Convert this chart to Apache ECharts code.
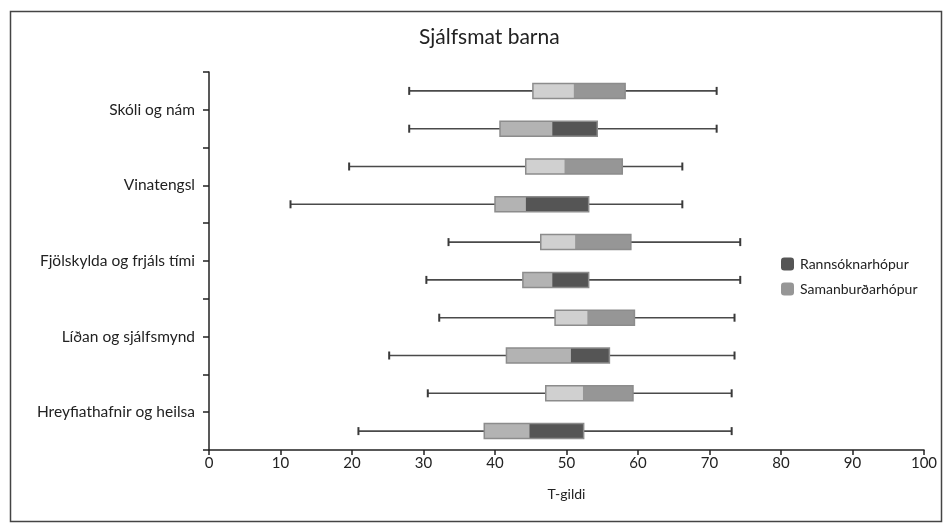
<!DOCTYPE html>
<html>
<head>
<meta charset="utf-8">
<script src="https://cdn.jsdelivr.net/npm/echarts@6/dist/echarts.min.js"></script>
<style>
html,body{margin:0;padding:0;background:#fff;}
#chart{width:947px;height:526px;}
</style>
</head>
<body>
<div id="chart"></div>
<script>
// Categories (top to bottom)
const categories = ['Skóli og nám', 'Vinatengsl', 'Fjölskylda og frjáls tími', 'Líðan og sjálfsmynd', 'Hreyfiathafnir og heilsa'];
// Each entry: [min, Q1, median, Q3, max]
const samanburdarhopur = [
  [28.0, 45.3, 51.0, 58.2, 71.0],
  [19.6, 44.3, 49.7, 57.8, 66.2],
  [33.5, 46.4, 51.2, 59.0, 74.3],
  [32.2, 48.4, 52.9, 59.5, 73.5],
  [30.6, 47.1, 52.3, 59.3, 73.1]
];
const rannsoknarhopur = [
  [28.0, 40.7, 48.0, 54.3, 71.0],
  [11.4, 40.0, 44.3, 53.1, 66.2],
  [30.4, 43.9, 48.0, 53.1, 74.3],
  [25.2, 41.6, 50.6, 56.0, 73.5],
  [20.9, 38.5, 44.8, 52.4, 73.1]
];
const xTicks = [0, 10, 20, 30, 40, 50, 60, 70, 80, 90, 100];
const rowSlots = categories.flatMap(c => [c + ' (S)', c + ' (R)']);

const FONT = 'Lato, "Noto Sans", sans-serif';

function makeRender(lowColor, highColor, sideSign) {
  return function (params, api) {
    const cat = api.value(0);
    const mn = api.value(1), q1 = api.value(2), md = api.value(3), q3 = api.value(4), mx = api.value(5);
    const band = api.size([0, 1])[1];
    const yc = api.coord([0, cat])[1] + sideSign * band / 4;
    const pMin = api.coord([mn, cat])[0];
    const pQ1 = api.coord([q1, cat])[0];
    const pMd = api.coord([md, cat])[0];
    const pQ3 = api.coord([q3, cat])[0];
    const pMax = api.coord([mx, cat])[0];
    const h = 15, capH = 8;
    const lineStyle = { stroke: '#4a4a4a', lineWidth: 1.6 };
    return {
      type: 'group',
      children: [
        { type: 'line', shape: { x1: pMin, y1: yc, x2: pQ1, y2: yc }, style: lineStyle },
        { type: 'line', shape: { x1: pQ3, y1: yc, x2: pMax, y2: yc }, style: lineStyle },
        { type: 'line', shape: { x1: pMin, y1: yc - capH / 2, x2: pMin, y2: yc + capH / 2 }, style: { stroke: '#3a3a3a', lineWidth: 2 } },
        { type: 'line', shape: { x1: pMax, y1: yc - capH / 2, x2: pMax, y2: yc + capH / 2 }, style: { stroke: '#3a3a3a', lineWidth: 2 } },
        { type: 'rect', shape: { x: pQ1, y: yc - h / 2, width: pMd - pQ1, height: h }, style: { fill: lowColor } },
        { type: 'rect', shape: { x: pMd, y: yc - h / 2, width: pQ3 - pMd, height: h }, style: { fill: highColor } },
        { type: 'rect', shape: { x: pQ1, y: yc - h / 2, width: pQ3 - pQ1, height: h }, style: { fill: 'none', stroke: '#8c8c8c', lineWidth: 1.5 } }
      ]
    };
  };
}

const chart = echarts.init(document.getElementById('chart'), null, { renderer: 'canvas' });
chart.setOption({
  animation: false,
  backgroundColor: '#fff',
  textStyle: { fontFamily: FONT },
  title: {
    text: 'Sjálfsmat barna',
    left: 414, top: 22,
    textStyle: { fontFamily: FONT, fontSize: 21, fontWeight: 'normal', color: '#222' }
  },
  graphic: [{
    type: 'rect', left: 8, top: 9,
    shape: { x: 0, y: 0, width: 931, height: 510 },
    style: { fill: 'none', stroke: '#444', lineWidth: 1.5 }
  }],
  legend: {
    orient: 'vertical', left: 776, top: 252,
    itemWidth: 13, itemHeight: 13, itemGap: 11,
    icon: 'roundRect',
    data: ['Rannsóknarhópur', 'Samanburðarhópur'],
    textStyle: { fontFamily: FONT, fontSize: 14, color: '#222', padding: [0, 0, 0, 1] }
  },
  grid: { left: 209, right: 23, top: 72, bottom: 76 },
  xAxis: {
    type: 'value', min: 0, max: 100, interval: 10,
    name: 'T-gildi', nameLocation: 'middle', nameGap: 37,
    nameTextStyle: { fontFamily: FONT, fontSize: 14, color: '#222' },
    axisLine: { show: true, lineStyle: { color: '#222', width: 1.5 } },
    axisTick: { show: true, length: 5, lineStyle: { color: '#222', width: 1.5 } },
    axisLabel: { fontFamily: FONT, fontSize: 15, color: '#222', margin: 6,
      formatter: v => xTicks.includes(v) ? String(v) : '' },
    splitLine: { show: false }
  },
  yAxis: [
    {
      type: 'category', data: categories, inverse: true,
      axisLine: { show: false }, axisTick: { show: false },
      axisLabel: { fontFamily: FONT, fontSize: 15.5, color: '#222', margin: 14 }
    },
    {
      type: 'category', data: rowSlots, inverse: true, position: 'left',
      axisLine: { show: true, lineStyle: { color: '#222', width: 1.5 } },
      axisTick: { show: true, length: 6, lineStyle: { color: '#222', width: 1.5 } },
      axisLabel: { show: false }
    }
  ],
  series: [
    {
      name: 'Samanburðarhópur', type: 'custom', yAxisIndex: 0,
      itemStyle: { color: '#969696' },
      renderItem: makeRender('#d0d0d0', '#969696', -1),
      encode: { x: [1, 2, 3, 4, 5], y: 0 },
      data: samanburdarhopur.map((d, i) => [i].concat(d))
    },
    {
      name: 'Rannsóknarhópur', type: 'custom', yAxisIndex: 0,
      itemStyle: { color: '#555555' },
      renderItem: makeRender('#b3b3b3', '#555555', 1),
      encode: { x: [1, 2, 3, 4, 5], y: 0 },
      data: rannsoknarhopur.map((d, i) => [i].concat(d))
    }
  ]
});
</script>
</body>
</html>
